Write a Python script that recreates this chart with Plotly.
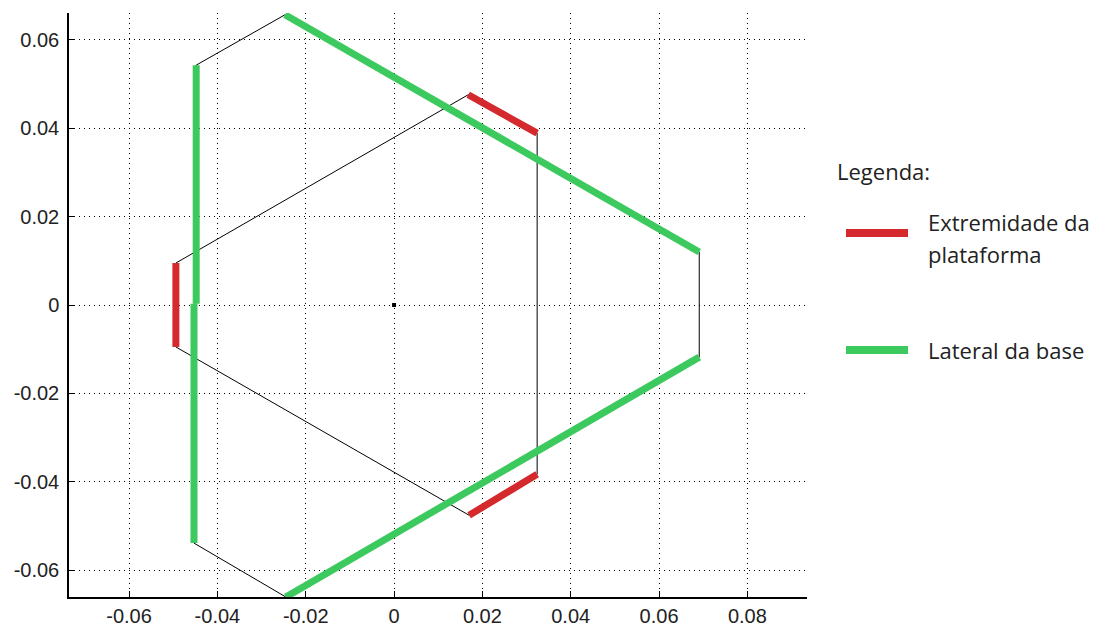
import plotly.graph_objects as go

# ---- data ----
# base hexagon outline (thin black), closed
base_x = [-0.0448, -0.0247, 0.0691, 0.0691, -0.0245, -0.0453, -0.0448]
base_y = [0.0543, 0.0657, 0.0120, -0.0118, -0.0661, -0.0539, 0.0543]

# platform hexagon outline (thin black), closed
plat_x = [-0.0494, 0.0168, 0.0324, 0.0324, 0.0170, -0.0494, -0.0494]
plat_y = [0.0095, 0.0476, 0.0389, -0.0383, -0.0476, -0.0095, 0.0095]

# red segments: "Extremidade da plataforma"
red_segments = [
    ([-0.0494, -0.0494], [0.0095, -0.0095]),
    ([0.0168, 0.0324], [0.0476, 0.0389]),
    ([0.0324, 0.0170], [-0.0383, -0.0476]),
]

# green segments: "Lateral da base"
green_segments = [
    ([-0.0448, -0.0448], [0.0543, 0.0003]),
    ([-0.0453, -0.0453], [0.0003, -0.0539]),
    ([-0.0247, 0.0691], [0.0657, 0.0120]),
    ([0.0691, -0.0245], [-0.0118, -0.0661]),
]

center_x = [0.0]
center_y = [0.0]

x_tickvals = [-0.06, -0.04, -0.02, 0, 0.02, 0.04, 0.06, 0.08]
x_ticktext = ["-0.06", "-0.04", "-0.02", "0", "0.02", "0.04", "0.06", "0.08"]
y_tickvals = [-0.06, -0.04, -0.02, 0, 0.02, 0.04, 0.06]
y_ticktext = ["-0.06", "-0.04", "-0.02", "0", "0.02", "0.04", "0.06"]

legend_title = "Legenda:"
legend_red_lines = ["Extremidade da", "plataforma"]
legend_green = "Lateral da base"

RED = "#d42a2e"
GREEN = "#3cc95e"

fig = go.Figure()

fig.add_trace(go.Scatter(x=base_x, y=base_y, mode="lines",
                         line=dict(color="black", width=1), showlegend=False, hoverinfo="skip"))
fig.add_trace(go.Scatter(x=plat_x, y=plat_y, mode="lines",
                         line=dict(color="black", width=1), showlegend=False, hoverinfo="skip"))
for sx, sy in green_segments:
    fig.add_trace(go.Scatter(x=sx, y=sy, mode="lines",
                             line=dict(color=GREEN, width=7), showlegend=False))
for sx, sy in red_segments:
    fig.add_trace(go.Scatter(x=sx, y=sy, mode="lines",
                             line=dict(color=RED, width=7), showlegend=False))
fig.add_trace(go.Scatter(x=center_x, y=center_y, mode="markers",
                         marker=dict(color="black", size=4, symbol="square"), showlegend=False))

# pixel geometry of plot area
L, R, T, B = 69, 807, 13, 597
W, H = 1098, 626


def px(xp):
    return (xp - L) / (R - L)


def py(yp):
    return (B - yp) / (B - T)


axis_common = dict(
    showgrid=True, gridcolor="black", gridwidth=1, griddash="1px,4px",
    zeroline=False, showline=True, linecolor="black", linewidth=1.5,
    ticks="inside", ticklen=6, tickcolor="black", tickwidth=1,
    tickfont=dict(family="Liberation Sans", size=20, color="#222222"),
    mirror=False,
)

fig.update_layout(
    width=W, height=H,
    margin=dict(l=L, r=W - R, t=T, b=H - B, autoexpand=False),
    paper_bgcolor="white", plot_bgcolor="white",
    xaxis=dict(range=[-0.0736, 0.0935], tickvals=x_tickvals, ticktext=x_ticktext,
               ticklabelstandoff=0, **axis_common),
    yaxis=dict(range=[-0.0661, 0.0661], tickvals=y_tickvals, ticktext=y_ticktext,
               ticklabelstandoff=4, **axis_common),
    showlegend=False,
)

legend_font = dict(family="Open Sans", size=22, color="#222222")
fig.add_annotation(x=px(835), y=py(171), xref="paper", yref="paper", text=legend_title,
                   showarrow=False, xanchor="left", yanchor="middle", font=legend_font)
fig.add_annotation(x=px(926), y=py(222), xref="paper", yref="paper", text=legend_red_lines[0],
                   showarrow=False, xanchor="left", yanchor="middle", font=legend_font)
fig.add_annotation(x=px(926), y=py(254), xref="paper", yref="paper", text=legend_red_lines[1],
                   showarrow=False, xanchor="left", yanchor="middle", font=legend_font)
fig.add_annotation(x=px(926), y=py(350), xref="paper", yref="paper", text=legend_green,
                   showarrow=False, xanchor="left", yanchor="middle", font=legend_font)
fig.add_shape(type="line", xref="paper", yref="paper", x0=px(846), x1=px(908), y0=py(233), y1=py(233),
              line=dict(color=RED, width=8))
fig.add_shape(type="line", xref="paper", yref="paper", x0=px(846), x1=px(908), y0=py(350), y1=py(350),
              line=dict(color=GREEN, width=8))

fig.write_html("out.html", config={"displayModeBar": False},
               post_script="document.body.style.margin='0';")
